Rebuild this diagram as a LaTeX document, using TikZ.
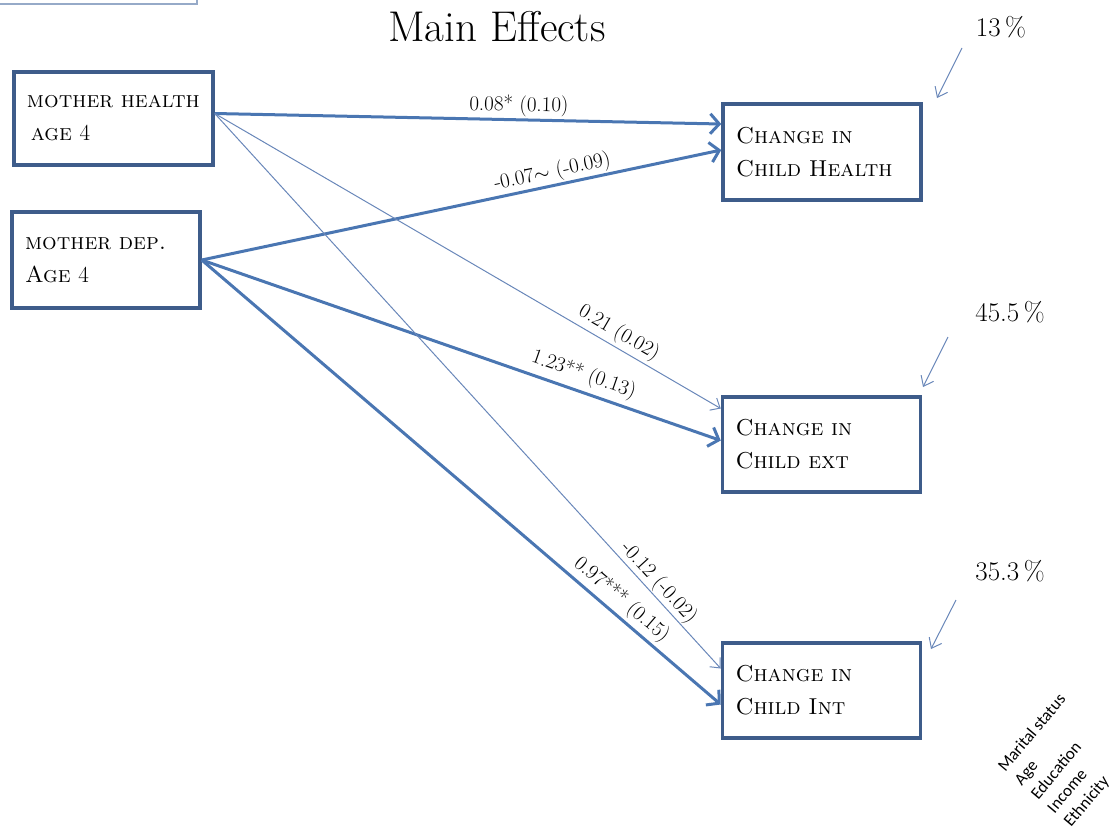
\documentclass[tikz,border=0pt]{standalone}
\usepackage{fontspec}
\newfontfamily\carl{Carlito}
\usetikzlibrary{arrows.meta}
\definecolor{boxc}{RGB}{62,92,138}
\definecolor{arrc}{RGB}{74,118,178}
\definecolor{thinc}{RGB}{105,135,185}
\definecolor{topc}{RGB}{150,170,200}
\begin{document}
\begin{tikzpicture}[x=1pt,y=-1pt,
  box/.style={draw=boxc,line width=3.5pt,fill=white,align=left,inner xsep=13pt,
     font=\fontsize{23}{33}\selectfont},
  thick arrow/.style={draw=arrc,line width=3pt,-{Straight Barb[length=9pt,width=20pt]}},
  thin arrow/.style={draw=thinc,line width=1pt,-{Straight Barb[length=8pt,width=14pt]}},
  note arrow/.style={draw=thinc,line width=1pt,-{Straight Barb[length=9pt,width=14pt]}},
  elabel/.style={font=\fontsize{21}{24}\selectfont,sloped,inner sep=1pt},
  pct/.style={font=\fontsize{27}{32}\selectfont},
]
\useasboundingbox (0,0) rectangle (1119,831);
\draw[topc,line width=1.5pt] (-5,-10) rectangle (197,4);

\node[font=\fontsize{43}{50}\selectfont] (title) at (497,27) {Main Effects};

\node[box,text width=173pt,minimum height=93pt] (mh) at (113.5,118.5)
  {\textsc{mother health}\\ \,\textsc{age} 4};
\node[box,text width=162pt,minimum height=96pt,inner xsep=13pt] (md) at (106,260)
  {\textsc{mother dep.}\\ \textsc{Age} 4};
\node[box,text width=172pt,minimum height=96pt] (ch) at (822,152)
  {\textsc{Change in}\\ \textsc{Child Health}};
\node[box,text width=172pt,minimum height=95pt] (ext) at (821.5,444.5)
  {\textsc{Change in}\\ \textsc{Child ext}};
\node[box,text width=172pt,minimum height=95pt] (int) at (821.5,690.5)
  {\textsc{Change in}\\ \textsc{Child Int}};

% connectors
\draw[thick arrow] ([yshift=5pt]mh.east) -- ([yshift=28pt]ch.west)
  node[elabel,pos=0.6,above=1pt] {0.08* (0.10)};
\draw[thick arrow] (md.east) -- ([yshift=2pt]ch.west)
  node[elabel,pos=0.68,above=0pt] {-0.07$\sim$ (-0.09)};
\draw[thin arrow] ([yshift=5pt]mh.east) -- ([yshift=36pt]ext.west)
  node[elabel,pos=0.785,above=2pt] {0.21 (0.02)};
\draw[thick arrow] (md.east) -- ([yshift=4pt]ext.west)
  node[elabel,pos=0.725,above=4pt] {1.23** (0.13)};
\draw[thin arrow] ([yshift=5pt]mh.east) -- ([yshift=22pt]int.west)
  node[elabel,pos=0.86,above=0pt] {-0.12 (-0.02)};
\draw[thick arrow] (md.east) -- ([yshift=-14pt]int.west)
  node[elabel,pos=0.79,above=2pt] {0.97*** (0.15)};

% variance explained
\node[pct] (p1) at (1001,27) {13\,\%};
\node[pct] (p2) at (1010,312) {45.5\,\%};
\node[pct] (p3) at (1010,571) {35.3\,\%};
\coordinate (a1s) at (962,48);  \coordinate (a1e) at (937,98);
\coordinate (a2s) at (948,337); \coordinate (a2e) at (923,387);
\coordinate (a3s) at (956,600); \coordinate (a3e) at (931,649);
\draw[note arrow] (a1s) -- (a1e);
\draw[note arrow] (a2s) -- (a2e);
\draw[note arrow] (a3s) -- (a3e);

% covariates
\node[font=\carl\fontsize{17}{21.5}\selectfont,align=left,rotate=50,anchor=north west,inner sep=0pt]
  (cov) at (996,765) {Marital status\\Age\\Education\\Income\\Ethnicity};
\end{tikzpicture}
\end{document}
